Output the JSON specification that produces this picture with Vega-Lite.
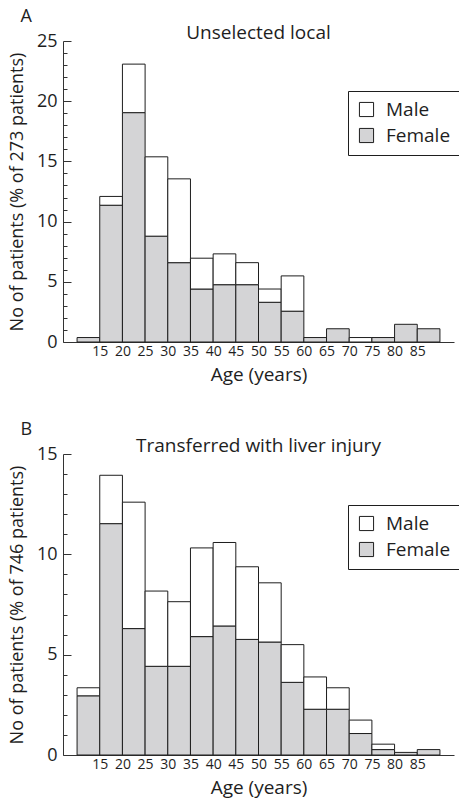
{
  "$schema": "https://vega.github.io/schema/vega-lite/v6.json",
  "padding": {"left": 8, "top": 7, "right": 0, "bottom": 5},
  "background": "white",
  "datasets": {
    "bars": [
      {"panel": "A", "age_from": 10, "age_to": 15, "sex": "Female", "pct": 0.37},
      {"panel": "A", "age_from": 15, "age_to": 20, "sex": "Female", "pct": 11.36},
      {"panel": "A", "age_from": 15, "age_to": 20, "sex": "Male", "pct": 0.73},
      {"panel": "A", "age_from": 20, "age_to": 25, "sex": "Female", "pct": 19.05},
      {"panel": "A", "age_from": 20, "age_to": 25, "sex": "Male", "pct": 4.03},
      {"panel": "A", "age_from": 25, "age_to": 30, "sex": "Female", "pct": 8.79},
      {"panel": "A", "age_from": 25, "age_to": 30, "sex": "Male", "pct": 6.59},
      {"panel": "A", "age_from": 30, "age_to": 35, "sex": "Female", "pct": 6.59},
      {"panel": "A", "age_from": 30, "age_to": 35, "sex": "Male", "pct": 6.96},
      {"panel": "A", "age_from": 35, "age_to": 40, "sex": "Female", "pct": 4.40},
      {"panel": "A", "age_from": 35, "age_to": 40, "sex": "Male", "pct": 2.56},
      {"panel": "A", "age_from": 40, "age_to": 45, "sex": "Female", "pct": 4.76},
      {"panel": "A", "age_from": 40, "age_to": 45, "sex": "Male", "pct": 2.56},
      {"panel": "A", "age_from": 45, "age_to": 50, "sex": "Female", "pct": 4.76},
      {"panel": "A", "age_from": 45, "age_to": 50, "sex": "Male", "pct": 1.83},
      {"panel": "A", "age_from": 50, "age_to": 55, "sex": "Female", "pct": 3.30},
      {"panel": "A", "age_from": 50, "age_to": 55, "sex": "Male", "pct": 1.10},
      {"panel": "A", "age_from": 55, "age_to": 60, "sex": "Female", "pct": 2.56},
      {"panel": "A", "age_from": 55, "age_to": 60, "sex": "Male", "pct": 2.93},
      {"panel": "A", "age_from": 60, "age_to": 65, "sex": "Female", "pct": 0.37},
      {"panel": "A", "age_from": 65, "age_to": 70, "sex": "Female", "pct": 1.10},
      {"panel": "A", "age_from": 70, "age_to": 75, "sex": "Male", "pct": 0.37},
      {"panel": "A", "age_from": 75, "age_to": 80, "sex": "Female", "pct": 0.37},
      {"panel": "A", "age_from": 80, "age_to": 85, "sex": "Female", "pct": 1.47},
      {"panel": "A", "age_from": 85, "age_to": 90, "sex": "Female", "pct": 1.10},
      {"panel": "B", "age_from": 10, "age_to": 15, "sex": "Female", "pct": 2.95},
      {"panel": "B", "age_from": 10, "age_to": 15, "sex": "Male", "pct": 0.40},
      {"panel": "B", "age_from": 15, "age_to": 20, "sex": "Female", "pct": 11.53},
      {"panel": "B", "age_from": 15, "age_to": 20, "sex": "Male", "pct": 2.41},
      {"panel": "B", "age_from": 20, "age_to": 25, "sex": "Female", "pct": 6.30},
      {"panel": "B", "age_from": 20, "age_to": 25, "sex": "Male", "pct": 6.30},
      {"panel": "B", "age_from": 25, "age_to": 30, "sex": "Female", "pct": 4.42},
      {"panel": "B", "age_from": 25, "age_to": 30, "sex": "Male", "pct": 3.75},
      {"panel": "B", "age_from": 30, "age_to": 35, "sex": "Female", "pct": 4.42},
      {"panel": "B", "age_from": 30, "age_to": 35, "sex": "Male", "pct": 3.22},
      {"panel": "B", "age_from": 35, "age_to": 40, "sex": "Female", "pct": 5.90},
      {"panel": "B", "age_from": 35, "age_to": 40, "sex": "Male", "pct": 4.42},
      {"panel": "B", "age_from": 40, "age_to": 45, "sex": "Female", "pct": 6.43},
      {"panel": "B", "age_from": 40, "age_to": 45, "sex": "Male", "pct": 4.16},
      {"panel": "B", "age_from": 45, "age_to": 50, "sex": "Female", "pct": 5.76},
      {"panel": "B", "age_from": 45, "age_to": 50, "sex": "Male", "pct": 3.62},
      {"panel": "B", "age_from": 50, "age_to": 55, "sex": "Female", "pct": 5.63},
      {"panel": "B", "age_from": 50, "age_to": 55, "sex": "Male", "pct": 2.95},
      {"panel": "B", "age_from": 55, "age_to": 60, "sex": "Female", "pct": 3.62},
      {"panel": "B", "age_from": 55, "age_to": 60, "sex": "Male", "pct": 1.88},
      {"panel": "B", "age_from": 60, "age_to": 65, "sex": "Female", "pct": 2.28},
      {"panel": "B", "age_from": 60, "age_to": 65, "sex": "Male", "pct": 1.61},
      {"panel": "B", "age_from": 65, "age_to": 70, "sex": "Female", "pct": 2.28},
      {"panel": "B", "age_from": 65, "age_to": 70, "sex": "Male", "pct": 1.07},
      {"panel": "B", "age_from": 70, "age_to": 75, "sex": "Female", "pct": 1.07},
      {"panel": "B", "age_from": 70, "age_to": 75, "sex": "Male", "pct": 0.67},
      {"panel": "B", "age_from": 75, "age_to": 80, "sex": "Female", "pct": 0.27},
      {"panel": "B", "age_from": 75, "age_to": 80, "sex": "Male", "pct": 0.27},
      {"panel": "B", "age_from": 80, "age_to": 85, "sex": "Female", "pct": 0.13},
      {"panel": "B", "age_from": 85, "age_to": 90, "sex": "Female", "pct": 0.27}
    ],
    "captions": [
      {"panel": "A", "caption": "Unselected local"},
      {"panel": "B", "caption": "Transferred with liver injury"}
    ]
  },
  "vconcat": [
    {
      "width": 391,
      "height": 301,
      "title": {"text": "A"},
      "layer": [
        {
          "data": {"name": "bars"},
          "transform": [{"filter": "datum.panel === 'A'"}],
          "mark": {"type": "bar", "orient": "vertical", "stroke": "#1e1e1e", "strokeWidth": 1},
          "encoding": {
            "x": {
              "field": "age_from", "type": "quantitative",
              "scale": {"domain": [8, 92], "nice": false, "zero": false},
              "axis": {"title": "Age (years)", "labelOverlap": false, "values": [15, 20, 25, 30, 35, 40, 45, 50, 55, 60, 65, 70, 75, 80, 85]}
            },
            "x2": {"field": "age_to"},
            "y": {
              "field": "pct", "type": "quantitative", "stack": "zero",
              "scale": {"domain": [0, 25], "nice": false},
              "axis": {"title": "No of patients (% of 273 patients)", "values": [0, 5, 10, 15, 20, 25]}
            },
            "color": {
              "field": "sex", "type": "nominal",
              "scale": {"domain": ["Male", "Female"], "range": ["#ffffff", "#d4d4d6"]},
              "legend": {"legendX": 285, "legendY": 50}
            },
            "order": {"field": "sex", "sort": "ascending"}
          }
        },
        {
          "data": {"name": "captions"},
          "transform": [{"filter": "datum.panel === 'A'"}],
          "mark": {"type": "text", "fontSize": 19, "align": "center", "baseline": "alphabetic"},
          "encoding": {
            "x": {
              "datum": 50, "type": "quantitative",
              "axis": {"title": "Age (years)", "labelOverlap": false, "values": [15, 20, 25, 30, 35, 40, 45, 50, 55, 60, 65, 70, 75, 80, 85]}
            },
            "y": {
              "datum": 25.17, "type": "quantitative",
              "axis": {
                "orient": "right", "offset": -391, "title": null, "labels": false, "domain": false,
                "values": [0, 1, 2, 3, 4, 5, 6, 7, 8, 9, 10, 11, 12, 13, 14, 15, 16, 17, 18, 19, 20, 21, 22, 23, 24, 25],
                "tickSize": {"condition": {"test": "datum.value % 5 === 0", "value": 8}, "value": 4}
              }
            },
            "text": {"field": "caption"}
          }
        }
      ],
      "resolve": {"axis": {"y": "independent"}}
    },
    {
      "width": 391,
      "height": 301,
      "title": {"text": "B"},
      "layer": [
        {
          "data": {"name": "bars"},
          "transform": [{"filter": "datum.panel === 'B'"}],
          "mark": {"type": "bar", "orient": "vertical", "stroke": "#1e1e1e", "strokeWidth": 1},
          "encoding": {
            "x": {
              "field": "age_from", "type": "quantitative",
              "scale": {"domain": [8, 92], "nice": false, "zero": false},
              "axis": {"title": "Age (years)", "labelOverlap": false, "values": [15, 20, 25, 30, 35, 40, 45, 50, 55, 60, 65, 70, 75, 80, 85]}
            },
            "x2": {"field": "age_to"},
            "y": {
              "field": "pct", "type": "quantitative", "stack": "zero",
              "scale": {"domain": [0, 15], "nice": false},
              "axis": {"title": "No of patients (% of 746 patients)", "values": [0, 5, 10, 15]}
            },
            "color": {
              "field": "sex", "type": "nominal",
              "scale": {"domain": ["Male", "Female"], "range": ["#ffffff", "#d4d4d6"]},
              "legend": {"legendX": 285, "legendY": 51}
            },
            "order": {"field": "sex", "sort": "ascending"}
          }
        },
        {
          "data": {"name": "captions"},
          "transform": [{"filter": "datum.panel === 'B'"}],
          "mark": {"type": "text", "fontSize": 19, "align": "center", "baseline": "alphabetic"},
          "encoding": {
            "x": {
              "datum": 50, "type": "quantitative",
              "axis": {"title": "Age (years)", "labelOverlap": false, "values": [15, 20, 25, 30, 35, 40, 45, 50, 55, 60, 65, 70, 75, 80, 85]}
            },
            "y": {
              "datum": 15.1, "type": "quantitative",
              "axis": {
                "orient": "right", "offset": -391, "title": null, "labels": false, "domain": false,
                "values": [0, 1, 2, 3, 4, 5, 6, 7, 8, 9, 10, 11, 12, 13, 14, 15],
                "tickSize": {"condition": {"test": "datum.value % 5 === 0", "value": 8}, "value": 4}
              }
            },
            "text": {"field": "caption"}
          }
        }
      ],
      "resolve": {"axis": {"y": "independent"}}
    }
  ],
  "spacing": 36,
  "resolve": {"scale": {"color": "independent"}, "legend": {"color": "independent"}},
  "config": {
    "font": "Open Sans",
    "view": {"stroke": null},
    "title": {"fontSize": 18, "fontWeight": "normal", "color": "#1e1e1e", "anchor": "start", "dx": 12, "offset": -2},
    "text": {"color": "#1e1e1e", "font": "Open Sans"},
    "axis": {
      "grid": false,
      "domainColor": "#333333",
      "tickColor": "#333333",
      "labelColor": "#1e1e1e",
      "titleColor": "#1e1e1e",
      "titleFontWeight": "normal",
      "labelOverlap": false
    },
    "axisX": {"ticks": false, "labelFontSize": 14, "labelPadding": 2, "titleFontSize": 19, "titlePadding": 7, "labelFlush": false, "labelOverlap": false},
    "axisY": {"ticks": false, "tickSize": 0, "labelFontSize": 18, "labelPadding": 6, "titleFontSize": 18, "titlePadding": 10},
    "axisRight": {"ticks": true},
    "legend": {
      "orient": "none",
      "title": null,
      "strokeColor": "#1e1e1e",
      "fillColor": "white",
      "padding": 9,
      "symbolType": "square",
      "symbolSize": 200,
      "symbolStrokeColor": "#1e1e1e",
      "symbolStrokeWidth": 1,
      "labelFontSize": 19,
      "labelColor": "#1e1e1e",
      "labelOffset": 10,
      "rowPadding": 6
    }
  }
}
